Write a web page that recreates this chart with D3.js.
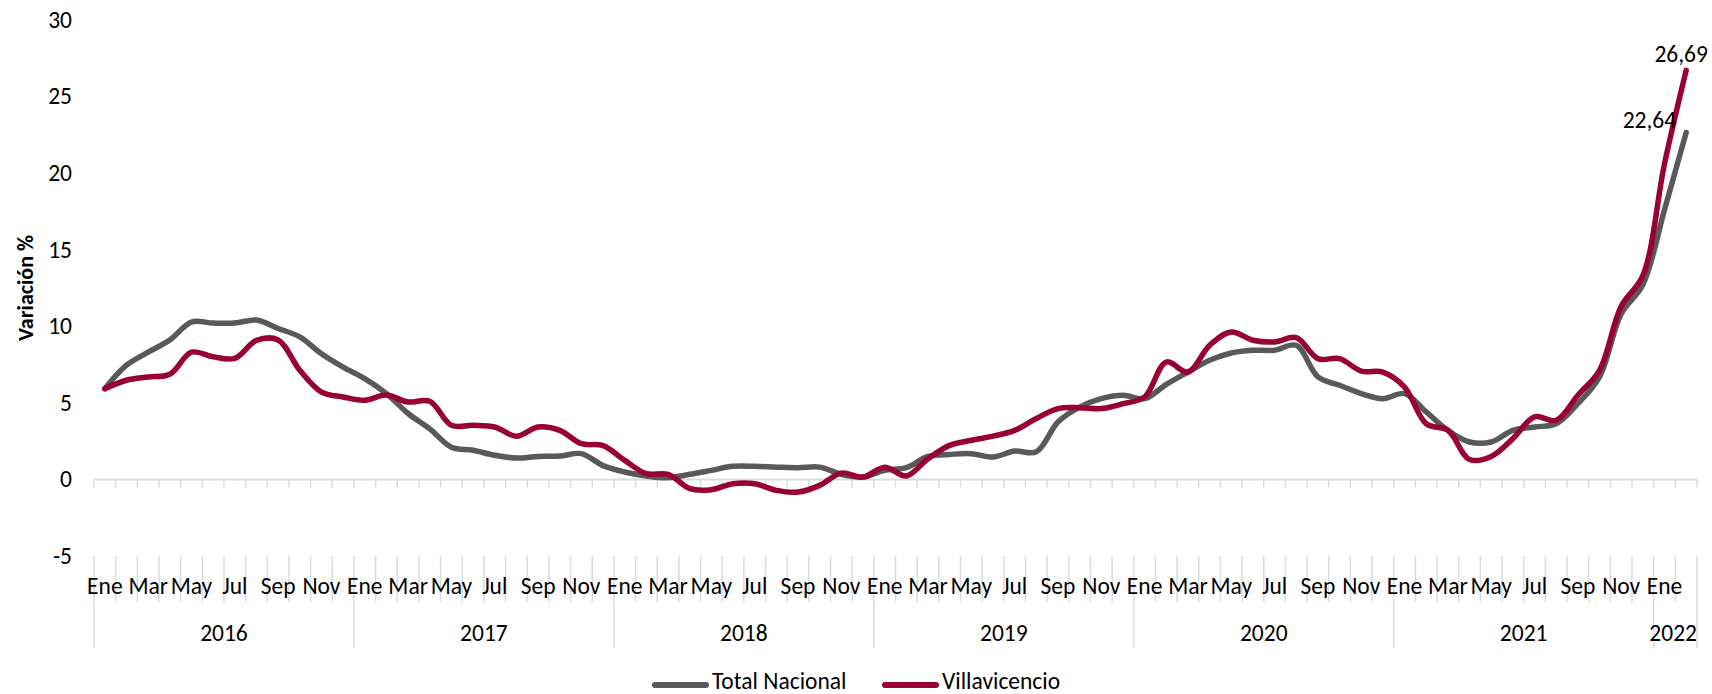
<!DOCTYPE html>
<html>
<head>
<meta charset="utf-8">
<script src="https://cdn.jsdelivr.net/npm/d3@7"></script>
<style>
    body { margin: 0; background: #fff; }
    svg text { font-family: Calibri, Carlito, Lato, sans-serif; fill: #000; }
</style>
</head>
<body>
<svg id="chart"></svg>
<script>
// month names used on the category axis
const monthNames = ['Ene', 'Feb', 'Mar', 'Abr', 'May', 'Jun', 'Jul', 'Ago', 'Sep', 'Oct', 'Nov', 'Dic'];
const years = [2016, 2017, 2018, 2019, 2020, 2021, 2022];
const monthsInYear = [12, 12, 12, 12, 12, 12, 2];

// annual variation (%), Ene 2016 .. Feb 2022
const totalNacional = [
    5.92, 7.45, 8.3, 9.1, 10.27, 10.2, 10.2, 10.4, 9.85, 9.3, 8.2, 7.33,
    6.58, 5.6, 4.3, 3.3, 2.1, 1.9, 1.57, 1.39, 1.5, 1.52, 1.68, 0.9,
    0.48, 0.22, 0.11, 0.33, 0.59, 0.85, 0.85, 0.8, 0.76, 0.8, 0.33, 0.15,
    0.59, 0.76, 1.5, 1.63, 1.68, 1.46, 1.85, 1.8, 3.75, 4.72, 5.27, 5.49,
    5.27, 6.2, 7.0, 7.77, 8.25, 8.43, 8.43, 8.75, 6.69, 6.14, 5.6, 5.27,
    5.6, 4.4, 3.2, 2.44, 2.44, 3.2, 3.42, 3.63, 4.94, 6.69, 10.8, 12.7,
    17.6, 22.64
];
const villavicencio = [
    5.92, 6.47, 6.68, 6.86, 8.3, 8.0, 7.9, 9.07, 9.1, 7.12, 5.7, 5.38,
    5.16, 5.5, 5.05, 5.1, 3.53, 3.53, 3.42, 2.82, 3.42, 3.2, 2.33, 2.2,
    1.24, 0.37, 0.33, -0.6, -0.67, -0.28, -0.28, -0.72, -0.83, -0.39, 0.41, 0.15,
    0.8, 0.22, 1.35, 2.22, 2.55, 2.82, 3.2, 3.97, 4.62, 4.68, 4.62, 4.94,
    5.38, 7.66, 7.0, 8.75, 9.62, 9.08, 8.97, 9.25, 7.88, 7.88, 7.07, 7.0,
    6.02, 3.63, 3.2, 1.3, 1.5, 2.66, 4.08, 3.86, 5.49, 7.12, 11.3, 13.3,
    20.6, 26.69
];
const yTicks = [-5, 0, 5, 10, 15, 20, 25, 30];

const series = [
    { name: 'Total Nacional', values: totalNacional, color: '#595959' },
    { name: 'Villavicencio', values: villavicencio, color: '#990033' },
];

const width = 1712;
const height = 694;
const marginLeft = 94;
const marginRight = 15;
const axisColor = '#d6dce5';
const fontSize = 23.5;

// one entry per month: { key, month, year }
const periods = [];
years.forEach((yr, yi) => {
    for (let m = 0; m < monthsInYear[yi]; m++) {
        periods.push({ key: `${yr}-${m}`, month: m, year: yr });
    }
});

const x = d3.scaleBand()
    .domain(periods.map((d) => d.key))
    .range([marginLeft, width - marginRight])
    .padding(0);

const y = d3.scaleLinear()
    .domain([-5, 30])
    .range([556, 19.7]);

const svg = d3.select('#chart').attr('width', width).attr('height', height);

// y axis labels (no axis line, no gridlines)
const yAxis = d3.axisLeft(y)
    .tickValues(yTicks)
    .tickFormat((d) => String(d))   // plain hyphen for -5
    .tickSize(0)
    .tickPadding(0);
svg.append('g')
    .attr('transform', `translate(${marginLeft - 22},0)`)
    .call(yAxis)
    .call((g) => g.select('.domain').remove())
    .call((g) => g.selectAll('text')
        .style('font-family', 'Calibri, Carlito, Lato, sans-serif')
        .attr('font-size', fontSize)
        .attr('fill', '#000'));

// y title
svg.append('text')
    .attr('transform', 'translate(33,288) rotate(-90)')
    .attr('text-anchor', 'middle')
    .attr('font-size', 22)
    .attr('font-weight', 'bold')
    .text('Variación %');

// zero line with small ticks at every month boundary
const boundaries = periods.map((d) => x(d.key)).concat([x(periods[periods.length - 1].key) + x.bandwidth()]);
const axisG = svg.append('g');
axisG.append('line')
    .attr('x1', marginLeft).attr('x2', width - marginRight)
    .attr('y1', y(0)).attr('y2', y(0))
    .attr('stroke', axisColor).attr('stroke-width', 2);
axisG.selectAll('line.tick')
    .data(boundaries)
    .join('line')
    .attr('class', 'tick')
    .attr('x1', (d) => d).attr('x2', (d) => d)
    .attr('y1', y(0)).attr('y2', y(0) + 8)
    .attr('stroke', axisColor).attr('stroke-width', 1.5);

// category labels at the bottom (month row + year row)
const labelTop = y(-5);
const yearStarts = [];
periods.forEach((d, i) => { if (d.month === 0) yearStarts.push(i); });
const bottomG = svg.append('g');
bottomG.selectAll('line.sep')
    .data(boundaries)
    .join('line')
    .attr('class', 'sep')
    .attr('x1', (d) => d).attr('x2', (d) => d)
    .attr('y1', labelTop)
    .attr('y2', (d, i) => (yearStarts.includes(i) || i === periods.length ? 648 : 602))
    .attr('stroke', axisColor).attr('stroke-width', 1.5);

bottomG.selectAll('text.month')
    .data(periods.filter((d) => d.month % 2 === 0))
    .join('text')
    .attr('class', 'month')
    .attr('x', (d) => x(d.key) + x.bandwidth() / 2)
    .attr('y', 594)
    .attr('text-anchor', 'middle')
    .attr('font-size', fontSize)
    .text((d) => monthNames[d.month]);

const axisEnd = width - marginRight;
bottomG.selectAll('text.year')
    .data(years)
    .join('text')
    .attr('class', 'year')
    .attr('y', 641)
    .attr('text-anchor', 'middle')
    .attr('font-size', fontSize)
    .text((d) => d)
    .attr('x', function (d, i) {
        const first = x(`${d}-0`);
        const cx = first + (monthsInYear[i] * x.bandwidth()) / 2;
        const half = this.getComputedTextLength() / 2;
        // keep the last year label inside the axis, like the original
        return Math.min(cx, axisEnd - half);
    });

// lines
const line = d3.line()
    .x((d, i) => x(periods[i].key) + x.bandwidth() / 2)
    .y((d) => y(d))
    .curve(d3.curveCatmullRom.alpha(0.5));

svg.append('g')
    .selectAll('path')
    .data(series)
    .join('path')
    .attr('d', (d) => line(d.values))
    .attr('fill', 'none')
    .attr('stroke', (d) => d.color)
    .attr('stroke-width', 5.5)
    .attr('stroke-linejoin', 'round')
    .attr('stroke-linecap', 'round');

// end labels
const last = periods.length - 1;
const lastX = x(periods[last].key) + x.bandwidth() / 2;
const fmt = (v) => d3.format('.2f')(v).replace('.', ',');
svg.append('text')
    .attr('x', lastX - 5)
    .attr('y', y(villavicencio[last]) - 8)
    .attr('text-anchor', 'middle')
    .attr('font-size', fontSize)
    .text(fmt(villavicencio[last]));
svg.append('text')
    .attr('x', lastX - 10)
    .attr('y', y(totalNacional[last]) - 4)
    .attr('text-anchor', 'end')
    .attr('font-size', fontSize)
    .text(fmt(totalNacional[last]));

// legend
const legendItems = [
    { name: 'Total Nacional', color: '#595959', x: 655 },
    { name: 'Villavicencio', color: '#990033', x: 885 },
];
const legend = svg.append('g')
    .selectAll('g')
    .data(legendItems)
    .join('g')
    .attr('transform', (d) => `translate(${d.x},685)`);
legend.append('line')
    .attr('x1', 0).attr('x2', 51)
    .attr('stroke', (d) => d.color)
    .attr('stroke-width', 6)
    .attr('stroke-linecap', 'round');
legend.append('text')
    .attr('x', 57)
    .attr('y', 4)
    .attr('font-size', fontSize)
    .text((d) => d.name);
</script>
</body>
</html>
